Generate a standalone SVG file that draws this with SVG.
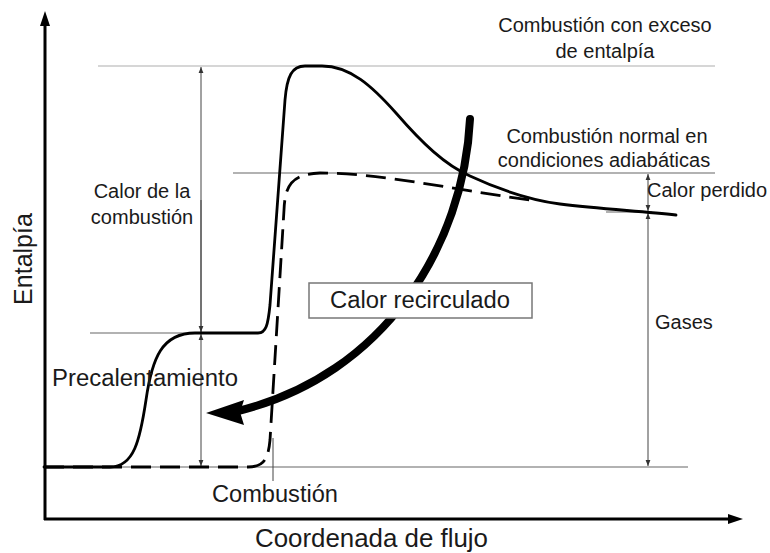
<svg xmlns="http://www.w3.org/2000/svg" width="770" height="553" viewBox="0 0 770 553">
<defs>
<style>
.t{font-family:"Liberation Sans",Arial,sans-serif;fill:#1a1a1a}
.s20{font-size:20px}
.s23{font-size:23px}
.s25{font-size:25px}
.ref{stroke:#c8c8c8;stroke-width:1.5;fill:none}
.ref2{stroke:#999;stroke-width:1.3;fill:none}
.dim{stroke:#444;stroke-width:1;fill:none}
.curve{stroke:#000;stroke-width:2.8;fill:none;stroke-linecap:round;stroke-linejoin:round}
.dash{stroke-dasharray:20 9;stroke-linecap:butt}
</style>
<marker id="da" viewBox="0 0 10 10" refX="10" refY="5" markerWidth="6" markerHeight="6" markerUnits="userSpaceOnUse" orient="auto-start-reverse">
<path d="M0,1 L10,5 L0,9 Z" fill="#333"/>
</marker>
</defs>
<rect width="770" height="553" fill="#fff"/>

<g id="reference-lines">
<line class="ref" x1="98" y1="66" x2="715" y2="66"/>
<line class="ref2" x1="233" y1="173" x2="715" y2="173"/>
<line class="ref2" x1="90" y1="333" x2="262" y2="333"/>
<line class="ref2" x1="44" y1="467" x2="688" y2="467"/>
<line class="ref2" x1="606" y1="212" x2="652" y2="212"/>
<line class="dim" x1="273" y1="438" x2="273" y2="481"/>
</g>

<g id="axes">
<line x1="45" y1="22" x2="45" y2="520" stroke="#000" stroke-width="3"/>
<polygon points="45,11 40,26 50,26" fill="#000"/>
<line x1="44" y1="519" x2="730" y2="519" stroke="#000" stroke-width="3"/>
<polygon points="743,519 728,514 728,524" fill="#000"/>
</g>

<g id="connectors">
<line class="dim" x1="201" y1="332" x2="201" y2="67" marker-end="url(#da)"/>
<line class="dim" x1="201" y1="334" x2="201" y2="466" marker-start="url(#da)" marker-end="url(#da)"/>
<line class="dim" x1="201" y1="200" x2="201" y2="332" marker-end="url(#da)"/>
<line class="dim" x1="648" y1="174" x2="648" y2="211" marker-start="url(#da)" marker-end="url(#da)"/>
<line class="dim" x1="648" y1="213" x2="648" y2="466" marker-start="url(#da)" marker-end="url(#da)"/>
</g>

<g id="curve-dashed">
<path class="curve dash" d="M44,467 L248,467 C262,467 268,462 270,440 L284,210 C285,186 291,174 320,173 C380,173 450,189 530,200"/>
</g>

<g id="curve-solid">
<path class="curve" d="M44,467 L110,467 C134,467 140,440 146,400 C152,358 162,333 195,333 L258,333 C266,333 268,325 270,305 L285,100 C287,76 292,66 305,66 L322,66 C350,66 372,86 396,113 C422,143 445,165 470,176 C500,190 530,200 560,204 C600,209 640,211 676,215"/>
</g>

<g id="arrow-recirculado">
<path d="M470,119 C464,245 385,375 238,411" fill="none" stroke="#000" stroke-width="8" stroke-linecap="round"/>
<polygon points="206,413 244,400 240,412 244,425" fill="#000"/>
</g>

<g id="box-recirculado">
<rect x="309" y="283" width="223" height="35" fill="#fff" stroke="#777" stroke-width="1.5"/>
<text class="t s23" x="330" y="308" textLength="180" lengthAdjust="spacingAndGlyphs">Calor recirculado</text>
</g>

<g id="labels">
<text class="t s25" transform="translate(32,259) rotate(-90)" text-anchor="middle">Entalpía</text>
<text class="t s25" x="255" y="547" textLength="233" lengthAdjust="spacingAndGlyphs">Coordenada de flujo</text>
<text class="t s20" x="142" y="198" text-anchor="middle">Calor de la</text>
<text class="t s20" x="142" y="224" text-anchor="middle">combustión</text>
<text class="t s23" x="52" y="386" textLength="186" lengthAdjust="spacingAndGlyphs">Precalentamiento</text>
<text class="t s23" x="212" y="502" textLength="126" lengthAdjust="spacingAndGlyphs">Combustión</text>
<text class="t s20" x="605" y="32" text-anchor="middle">Combustión con exceso</text>
<text class="t s20" x="605" y="58" text-anchor="middle">de entalpía</text>
<text class="t s20" x="607" y="143" text-anchor="middle">Combustión normal en</text>
<text class="t s20" x="604" y="167" text-anchor="middle">condiciones adiabáticas</text>
<text class="t s20" x="647" y="197">Calor perdido</text>
<text class="t s20" x="655" y="329">Gases</text>
</g>
</svg>
